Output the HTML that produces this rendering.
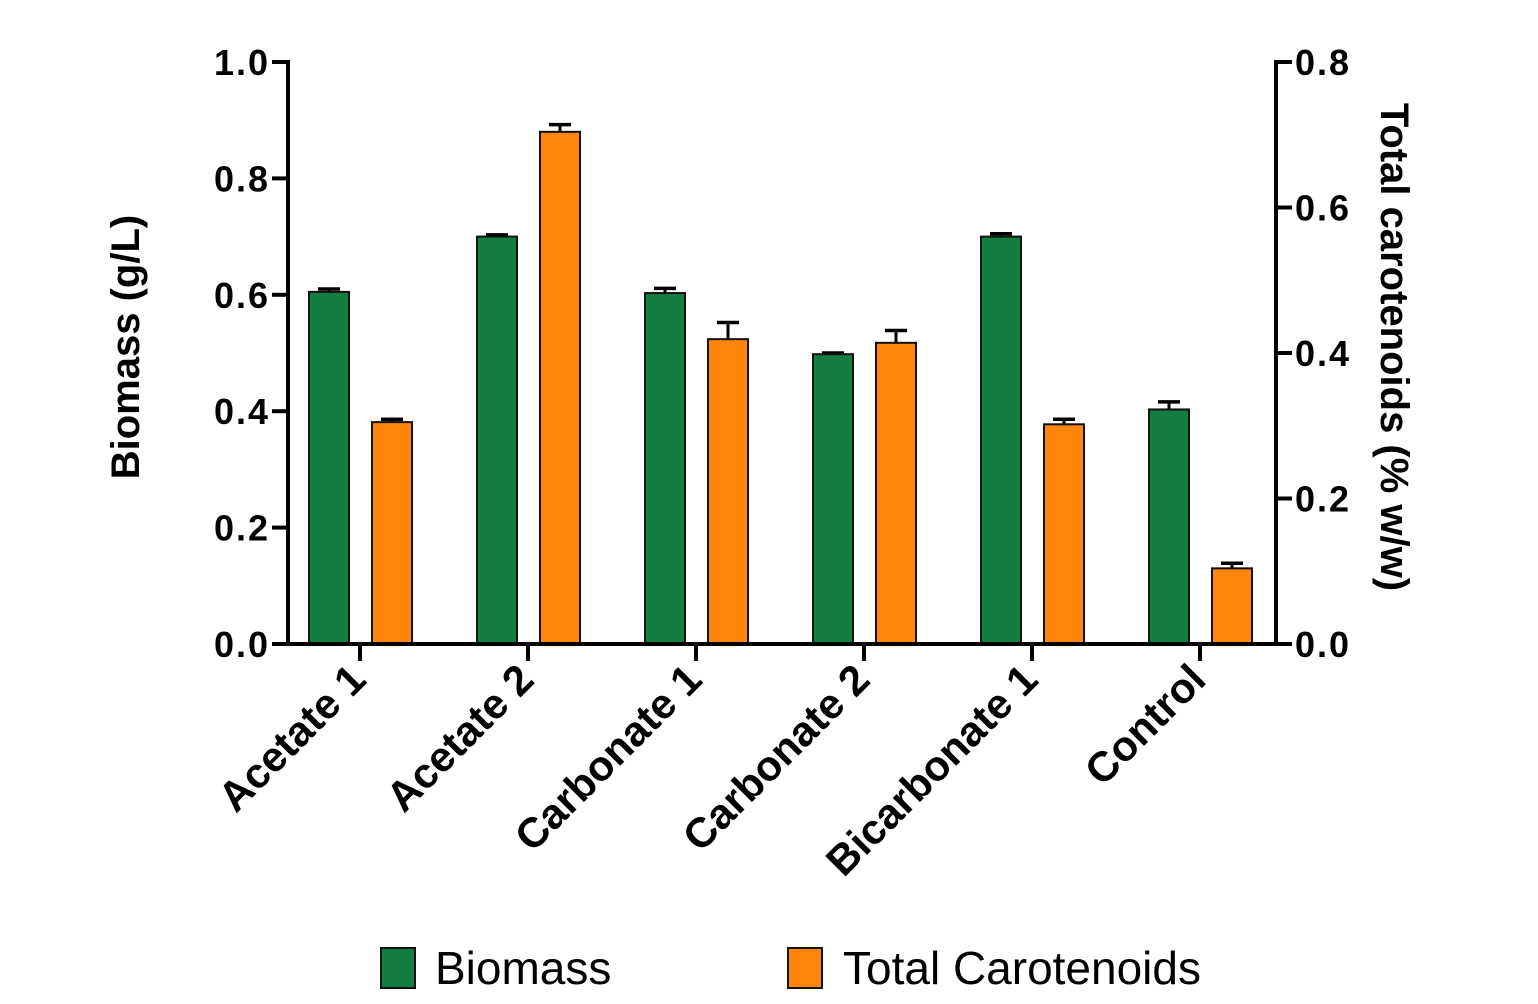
<!DOCTYPE html>
<html><head><meta charset="utf-8"><style>
html,body{margin:0;padding:0;background:#fff;}
svg{display:block;font-family:"Liberation Sans",Arial,sans-serif;}
</style></head><body>
<svg id="chart" width="1538" height="1004" viewBox="0 0 1538 1004" xmlns="http://www.w3.org/2000/svg"></svg>
<script>
const categories=["Acetate 1","Acetate 2","Carbonate 1","Carbonate 2","Bicarbonate 1","Control"];
const biomass=[0.605,0.700,0.603,0.498,0.700,0.403];
const biomassErr=[0.005,0.003,0.008,0.002,0.005,0.013];
const carot=[0.305,0.704,0.419,0.414,0.302,0.104];
const carotErr=[0.004,0.010,0.023,0.017,0.007,0.007];
const leftTicks=[0.0,0.2,0.4,0.6,0.8,1.0];
const rightTicks=[0.0,0.2,0.4,0.6,0.8];

const svg=document.getElementById('chart');
const NS='http://www.w3.org/2000/svg';
const X0=288,X1=1276,Y0=644,Y1=62;
const yL=v=>Y0-(v/1.0)*(Y0-Y1);
const yR=v=>Y0-(v/0.8)*(Y0-Y1);
const xC=i=>360+i*168;
const BW=40;
function mk(tag,attrs,parent){const e=document.createElementNS(NS,tag);for(const k in attrs)e.setAttribute(k,attrs[k]);(parent||svg).appendChild(e);return e;}

function bar(x,v,err,scale,color,name){
  const g=mk('g',{});
  
  
  const top=scale(v),et=scale(v+err);
  mk('line',{x1:x,x2:x,y1:top,y2:et,stroke:'#000','stroke-width':3},g);
  mk('line',{x1:x-11,x2:x+11,y1:et,y2:et,stroke:'#000','stroke-width':3.5},g);
  mk('rect',{x:x-BW/2,y:top,width:BW,height:Y0-top,fill:color,stroke:'#111','stroke-width':2},g);
}
categories.forEach((c,i)=>{
  bar(xC(i)-31,biomass[i],biomassErr[i],yL,'#167d40','bar-biomass-'+i);
  bar(xC(i)+32,carot[i],carotErr[i],yR,'#ff850b','bar-carotenoids-'+i);
});
const ax=mk('g',{});


mk('line',{x1:X0,x2:X0,y1:Y1-2,y2:Y0+2,stroke:'#000','stroke-width':4},ax);
mk('line',{x1:X1,x2:X1,y1:Y1-2,y2:Y0+2,stroke:'#000','stroke-width':4},ax);
mk('line',{x1:X0-2,x2:X1+2,y1:Y0,y2:Y0,stroke:'#000','stroke-width':4},ax);
leftTicks.forEach(t=>{
  const y=yL(t);
  mk('line',{x1:X0-16,x2:X0,y1:y,y2:y,stroke:'#000','stroke-width':4},ax);
  const tx=mk('text',{x:X0-18,y:y+13,'text-anchor':'end','font-size':36,'font-weight':'bold','letter-spacing':2},ax);
  tx.textContent=t.toFixed(1);
  
  
});
rightTicks.forEach(t=>{
  const y=yR(t);
  mk('line',{x1:X1,x2:X1+16,y1:y,y2:y,stroke:'#000','stroke-width':4},ax);
  const tx=mk('text',{x:X1+19,y:y+13,'text-anchor':'start','font-size':36,'font-weight':'bold','letter-spacing':2},ax);
  tx.textContent=t.toFixed(1);
  
  
});
categories.forEach((c,i)=>{
  const x=xC(i);
  mk('line',{x1:x,x2:x,y1:Y0,y2:Y0+17,stroke:'#000','stroke-width':4},ax);
  const tx=mk('text',{x:x+8,y:682,'text-anchor':'end','font-size':42,'font-weight':'bold',transform:'rotate(-45 '+(x+8)+' 682)'},ax);
  tx.textContent=c;
  
  
});
</script>
<svg style="position:absolute;left:0;top:0" width="1538" height="1004" xmlns="http://www.w3.org/2000/svg" font-family="Liberation Sans, Arial, sans-serif">
<text x="139" y="347" transform="rotate(-90 139 347)" text-anchor="middle" font-size="40" font-weight="bold">Biomass (g/L)</text>
<text x="1381" y="347" transform="rotate(90 1381 347)" text-anchor="middle" font-size="40" font-weight="bold">Total carotenoids (% w/w)</text>
<g>
<rect x="381" y="948" width="34" height="40" fill="#167d40" stroke="#111" stroke-width="2"/>
<text x="435" y="984" font-size="46">Biomass</text>
<rect x="788" y="948" width="34" height="40" fill="#ff850b" stroke="#111" stroke-width="2"/>
<text x="843" y="984" font-size="46">Total Carotenoids</text>
</g>
</svg>
</body></html>
